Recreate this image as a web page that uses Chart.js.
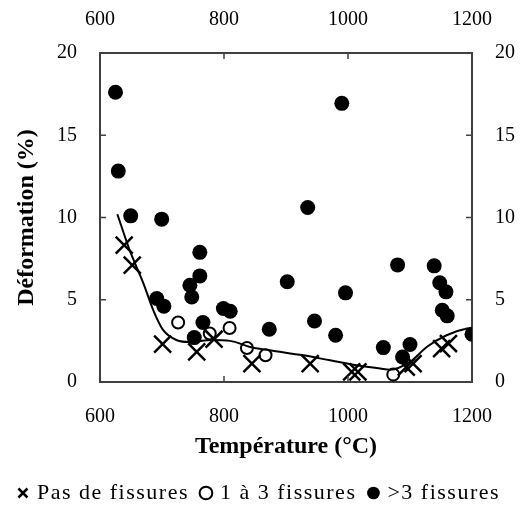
<!DOCTYPE html>
<html>
<head>
<meta charset="utf-8">
<script src="https://cdn.jsdelivr.net/npm/chart.js@4.4.1/dist/chart.umd.min.js"></script>
<style>
  body { margin: 0; background: #fff; }
</style>
</head>
<body>
<canvas id="myChart" width="520" height="506"></canvas>
<script>
// Pas de fissures (croix)
let tempNone = [639, 652, 701, 756, 784, 845, 939, 1006, 1016, 1094, 1105, 1151, 1162];
let defNone  = [8.32, 7.10, 2.30, 1.83, 2.6, 1.12, 1.12, 0.61, 0.61, 0.91, 1.12, 2.03, 2.34];

// 1 a 3 fissures (cercles vides)
let tempFew = [726, 777, 809, 837, 867, 1073];
let defFew  = [3.62, 2.95, 3.28, 2.07, 1.63, 0.45];

// >3 fissures (cercles pleins)
let tempMany = [625, 629.5, 649.5, 699.5, 990, 935, 761, 761, 745, 748, 691.5, 703, 799, 810,
                766, 752, 873, 902, 996, 946, 980, 1080, 1139, 1148, 1158, 1152, 1160, 1200,
                1057, 1100, 1088];
let defMany  = [17.61, 12.82, 10.10, 9.90, 16.94, 10.61, 7.88, 6.45, 5.88, 5.17, 5.08, 4.61, 4.47, 4.30,
                3.62, 2.70, 3.21, 6.09, 5.42, 3.71, 2.84, 7.12, 7.06, 6.03, 5.48, 4.36, 4.02, 2.90,
                2.09, 2.28, 1.52];

// courbe de tendance
let tempFit = [628, 648, 670, 686, 702, 724, 745, 780, 810, 842, 874, 928, 971, 1014, 1052, 1068, 1100, 1127, 1159, 1192, 1200];
let defFit  = [10.2, 8.0, 6.0, 4.36, 3.15, 2.54, 2.43, 2.55, 2.5, 2.13, 1.93, 1.62, 1.32, 1.02, 0.82, 0.75, 1.22, 2.13, 2.84, 3.25, 3.27];

let xTicks = [600, 800, 1000, 1200];
let yTicks = [0, 5, 10, 15, 20];

function toPoints(xs, ys) {
    let pts = [];
    for (var i = 0; i < xs.length; i++) {
        pts.push({ x: xs[i], y: ys[i] });
    }
    return pts;
}

const serif = "'Liberation Serif', 'Times New Roman', serif";
const axisColor = '#404040';

// tick marks pointing into the plot
const inwardTicks = {
    id: 'inwardTicks',
    afterDraw(chart) {
        const ctx = chart.ctx;
        const a = chart.chartArea;
        const len = 6;
        ctx.save();
        ctx.strokeStyle = axisColor;
        ctx.lineWidth = 1.5;
        ctx.beginPath();
        xTicks.forEach(v => {
            const px = chart.scales.x.getPixelForValue(v);
            ctx.moveTo(px, a.bottom); ctx.lineTo(px, a.bottom - len);
            ctx.moveTo(px, a.top); ctx.lineTo(px, a.top + len);
        });
        yTicks.forEach(v => {
            const py = chart.scales.y.getPixelForValue(v);
            ctx.moveTo(a.left, py); ctx.lineTo(a.left + len, py);
            ctx.moveTo(a.right, py); ctx.lineTo(a.right - len, py);
        });
        ctx.stroke();
        ctx.restore();
    }
};

// the legend text in the original is spread out a bit
const legendSpacing = {
    id: 'legendSpacing',
    afterInit(chart) {
        const lg = chart.legend;
        if (!lg) return;
        const fit = lg.fit, draw = lg.draw;
        lg.fit = function () {
            chart.ctx.letterSpacing = '1.5px';
            fit.apply(this, arguments);
            chart.ctx.letterSpacing = '0px';
        };
        lg.draw = function () {
            chart.ctx.letterSpacing = '1.5px';
            draw.apply(this, arguments);
            chart.ctx.letterSpacing = '0px';
        };
    }
};

function fixSize(w, h) {
    return function (scale) {
        if (w !== null) scale.width = w;
        if (h !== null) scale.height = h;
    };
}

function tickOpts(padding) {
    return {
        padding: padding, color: '#000',
        font: { family: serif, size: 20 },
        callback: v => String(v)
    };
}

function axisBase() {
    return {
        type: 'linear',
        grid: { display: false, drawTicks: false },
        border: { display: true, color: axisColor, width: 2 }
    };
}

let myChart = document.getElementById("myChart").getContext('2d');

let chart = new Chart(myChart, {
    type: 'scatter',
    data: {
        datasets: [
            {
                label: 'Pas de fissures',
                data: toPoints(tempNone, defNone),
                pointStyle: 'crossRot',
                pointRadius: 12,
                pointBorderWidth: 2.5,
                borderWidth: 2.5,
                borderColor: '#000',
                backgroundColor: '#000',
                order: 1
            },
            {
                label: '1 à 3 fissures',
                data: toPoints(tempFew, defFew),
                pointStyle: 'circle',
                pointRadius: 6,
                pointBorderWidth: 2,
                borderWidth: 2,
                borderColor: '#000',
                backgroundColor: '#fff',
                order: 2
            },
            {
                label: '>3 fissures',
                data: toPoints(tempMany, defMany),
                pointStyle: 'circle',
                pointRadius: 7.5,
                pointBorderWidth: 0,
                borderWidth: 0,
                borderColor: '#000',
                backgroundColor: '#000',
                order: 3
            },
            {
                label: 'fit',
                type: 'line',
                data: toPoints(tempFit, defFit),
                showLine: true,
                pointRadius: 0,
                borderColor: '#000',
                borderWidth: 2,
                cubicInterpolationMode: 'monotone',
                fill: false,
                order: 0
            }
        ]
    },
    options: {
        responsive: false,
        animation: false,
        layout: { padding: { left: 0, right: 0, top: 0, bottom: -8 } },
        plugins: {
            tooltip: { enabled: false },
            legend: {
                position: 'bottom',
                labels: {
                    filter: item => item.text !== 'fit',
                    usePointStyle: true,
                    boxWidth: 6,
                    boxHeight: 9,
                    padding: 14,
                    color: '#000',
                    font: { family: serif, size: 22 }
                }
            }
        },
        scales: {
            x: Object.assign(axisBase(), {
                position: 'bottom',
                min: 600, max: 1200,
                afterFit: fixSize(null, 86),
                afterBuildTicks: s => { s.ticks = xTicks.map(v => ({ value: v })); },
                ticks: tickOpts(23),
                title: {
                    display: true,
                    text: 'Température (°C)',
                    color: '#000',
                    padding: { top: 0, bottom: 7 },
                    font: { family: serif, size: 24, weight: 'bold' }
                }
            }),
            x2: Object.assign(axisBase(), {
                position: 'top',
                min: 600, max: 1200,
                afterFit: fixSize(null, 53),
                afterBuildTicks: s => { s.ticks = xTicks.map(v => ({ value: v })); },
                ticks: tickOpts(21)
            }),
            y: Object.assign(axisBase(), {
                position: 'left',
                min: 0, max: 20,
                afterFit: fixSize(100, null),
                afterBuildTicks: s => { s.ticks = yTicks.map(v => ({ value: v })); },
                ticks: tickOpts(23),
                title: {
                    display: true,
                    text: 'Déformation (%)',
                    color: '#000',
                    padding: { top: 12, bottom: 0 },
                    font: { family: serif, size: 24, weight: 'bold' }
                }
            }),
            y2: Object.assign(axisBase(), {
                position: 'right',
                min: 0, max: 20,
                afterFit: fixSize(48, null),
                afterBuildTicks: s => { s.ticks = yTicks.map(v => ({ value: v })); },
                ticks: tickOpts(23)
            })
        }
    },
    plugins: [inwardTicks, legendSpacing]
});
</script>
</body>
</html>
